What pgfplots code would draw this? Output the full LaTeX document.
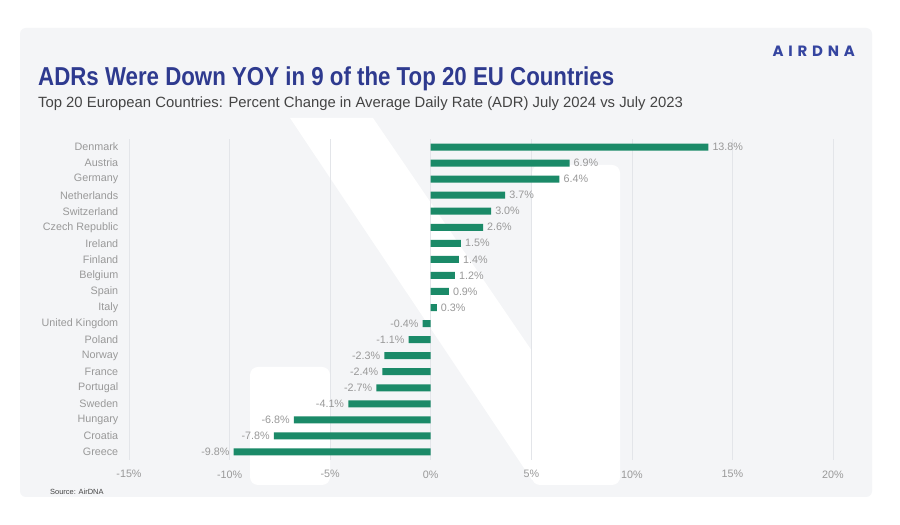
\documentclass[border=0pt]{standalone}
\usepackage{pgfplots}
\usepackage{pgfplotstable}
\pgfplotsset{compat=1.18}
\usepackage{fontspec}
\setmainfont{Liberation Sans}
\newfontfamily\titlefont[FakeStretch=0.86]{Liberation Sans}
\newfontfamily\logofont[LetterSpace=32]{Poppins}
\definecolor{cardbg}{HTML}{F4F5F7}
\definecolor{titlec}{HTML}{2E3A8F}
\definecolor{subc}{HTML}{444444}
\definecolor{labc}{HTML}{999999}
\definecolor{gridc}{HTML}{E3E5E9}
\definecolor{barc}{HTML}{1B8A68}
\definecolor{logoc}{HTML}{3545A0}

\pgfplotstableread{
y val
0 -9.8
1 -7.8
2 -6.8
3 -4.1
4 -2.7
5 -2.4
6 -2.3
7 -1.1
8 -0.4
9 0.3
10 0.9
11 1.2
12 1.4
13 1.5
14 2.6
15 3.0
16 3.7
17 6.4
18 6.9
19 13.8
}\datatable

\begin{document}
\begin{tikzpicture}[x=1bp,y=1bp]
\fill[white] (0,0) rectangle (900,525);
\fill[cardbg, rounded corners=6bp] (20,28) rectangle (872,497);
% watermark
\fill[white, rounded corners=8bp] (250,40) rectangle (330,158);
\fill[white, rounded corners=8bp] (532,40) rectangle (620,360);
\fill[white] (290,407) -- (373,407) -- (620,45) -- (532,45) -- cycle;
% titles
\node[anchor=base west, inner sep=0, text=titlec, font=\titlefont\bfseries\fontsize{26}{30}\selectfont] at (38,439) {ADRs Were Down YOY in 9 of the Top 20 EU Countries};
\node[anchor=base west, inner sep=0, text=subc, font=\fontsize{14.9}{17}\selectfont] at (38,417) {Top 20 European Countries: Percent Change in Average Daily Rate (ADR) July 2024 vs July 2023};
\node[anchor=base east, inner sep=0, text=logoc, font=\logofont\bfseries\fontsize{15}{17}\selectfont] at (855,468) {AIRDNA};
\node[anchor=base west, inner sep=0, text=subc, font=\fontsize{7.5}{9}\selectfont] at (50,30) {Source: AirDNA};
\begin{axis}[
  at={(129bp,65bp)}, anchor=south west,
  scale only axis, width=704bp, height=321bp,
  xbar, bar width=7bp,
  xmin=-15, xmax=20, ymin=-0.5, ymax=19.5,
  axis line style={draw=none},
  major tick style={draw=none},
  xtick={-15,-10,...,20},
  xticklabel={\pgfmathprintnumber{\tick}\%},
  ytick={0,...,19},
  yticklabels={Greece,Croatia,Hungary,Sweden,Portugal,France,Norway,Poland,United Kingdom,Italy,Spain,Belgium,Finland,Ireland,Czech Republic,Switzerland,Netherlands,Germany,Austria,Denmark},
  xmajorgrids, grid style={gridc, line width=0.7bp},
  /pgf/number format/assume math mode=true,
  tick label style={font=\fontsize{10.8}{12}\selectfont, text=labc},
  xticklabel style={yshift=-7bp},
  yticklabel style={xshift=-3bp},
  nodes near coords={\pgfmathprintnumber[fixed,fixed zerofill,precision=1]{\pgfplotspointmeta}\%},
  nodes near coords style={font=\fontsize{10.8}{12}\selectfont, text=labc, inner sep=4bp},
  point meta=x,
]
\addplot[fill=barc, draw=none] table[x=val, y=y] {\datatable};
\end{axis}
\end{tikzpicture}
\end{document}
